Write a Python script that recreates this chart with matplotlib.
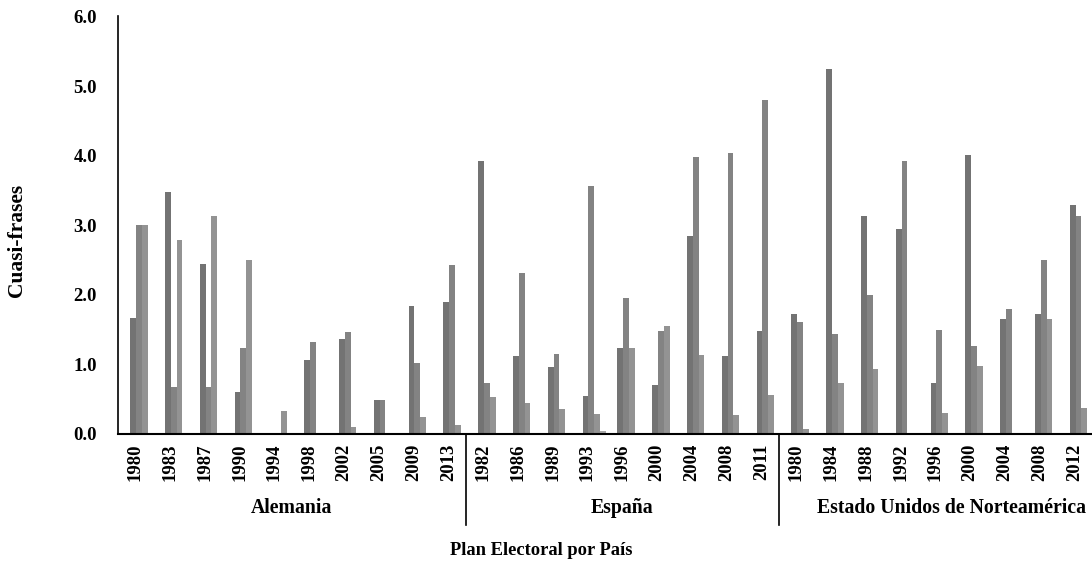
import numpy as np
import matplotlib
matplotlib.use("Agg")
import matplotlib.pyplot as plt
import matplotlib.transforms as mtransforms

# --- data ------------------------------------------------------------------
ale_years = ["1980", "1983", "1987", "1990", "1994", "1998", "2002", "2005", "2009", "2013"]
esp_years = ["1982", "1986", "1989", "1993", "1996", "2000", "2004", "2008", "2011"]
usa_years = ["1980", "1984", "1988", "1992", "1996", "2000", "2004", "2008", "2012"]

ale_s1 = [1.67, 3.48, 2.44, 0.61, 0.00, 1.06, 1.36, 0.49, 1.84, 1.90]
ale_s2 = [3.00, 0.68, 0.68, 1.24, 0.00, 1.32, 1.47, 0.49, 1.02, 2.43]
ale_s3 = [3.00, 2.79, 3.13, 2.50, 0.33, 0.00, 0.10, 0.00, 0.24, 0.13]
ale_s4 = [0, 0, 0, 0, 0, 0, 0, 0, 0, 0]

esp_s1 = [3.92, 1.12, 0.96, 0.55, 1.24, 0.70, 2.84, 1.12, 1.48]
esp_s2 = [0.73, 2.31, 1.15, 3.57, 1.96, 1.48, 3.98, 4.04, 4.80]
esp_s3 = [0.53, 0.44, 0.36, 0.29, 1.24, 1.55, 1.14, 0.28, 0.56]
esp_s4 = [0, 0, 0, 0.04, 0, 0, 0, 0, 0]

usa_s1 = [1.72, 5.25, 3.13, 2.94, 0.73, 4.01, 1.65, 1.72, 3.29]
usa_s2 = [1.61, 1.43, 2.00, 3.92, 1.49, 1.26, 1.80, 2.50, 3.13]
usa_s3 = [0.07, 0.73, 0.93, 0.00, 0.30, 0.98, 0.00, 1.65, 0.38]
usa_s4 = [0, 0, 0, 0, 0, 0, 0, 0, 0]

countries = ["Alemania", "España", "Estado Unidos de Norteamérica"]
y_ticks = [0.0, 1.0, 2.0, 3.0, 4.0, 5.0, 6.0]

COLORS = ["#737373", "#838383", "#939393", "#a8a8a8"]
FONT = "Liberation Serif"

years = ale_years + esp_years + usa_years
series = [
    ale_s1 + esp_s1 + usa_s1,
    ale_s2 + esp_s2 + usa_s2,
    ale_s3 + esp_s3 + usa_s3,
    ale_s4 + esp_s4 + usa_s4,
]
n = len(years)
x = np.arange(n)

plt.rcParams["font.family"] = [FONT, "DejaVu Serif"]
plt.rcParams["font.weight"] = "bold"

fig = plt.figure(figsize=(10.92, 5.61), dpi=100)
ax = fig.add_axes([0.1078, 0.2264, 0.8922, 0.7442])

w = 0.167
for j, vals in enumerate(series):
    ax.bar(x - 0.057 + w * j, vals, width=w, color=COLORS[j], linewidth=0)

ax.set_xlim(-0.5, n - 0.5)
ax.set_ylim(0, 6)
ax.set_yticks(y_ticks)
ax.set_yticklabels([f"{v:.1f}" for v in y_ticks], fontsize=13.5, fontweight="bold")
ax.set_xticks(x)
ax.set_xticklabels(years, rotation=90, fontsize=13.5, fontweight="bold")
ax.tick_params(axis="both", length=0)
ax.tick_params(axis="y", pad=15)
ax.tick_params(axis="x", pad=7)

for s in ["top", "right"]:
    ax.spines[s].set_visible(False)
ax.spines["left"].set_linewidth(1.2)
ax.spines["bottom"].set_linewidth(1.5)

# country separators and group labels below the year ticks
trans = mtransforms.blended_transform_factory(ax.transData, ax.transAxes)
bounds = [len(ale_years) - 0.5, len(ale_years) + len(esp_years) - 0.5]
for b in bounds:
    ax.plot([b, b], [0, -0.218], color="black", lw=1.2,
            transform=trans, clip_on=False)

centers = [(len(ale_years) - 1) / 2,
           len(ale_years) + (len(esp_years) - 1) / 2,
           23.45]
for c, name in zip(centers, countries):
    ax.text(c, -0.177, name, transform=trans, ha="center", va="center",
            fontsize=14.2, fontweight="bold")

fig.text(0.496, 0.018, "Plan Electoral por País", ha="center", va="center",
         fontsize=13.3, fontweight="bold")
fig.text(0.0156, 0.572, "Cuasi-frases", ha="center", va="center",
         rotation=90, fontsize=15.5, fontweight="bold")

fig.savefig("out.png", dpi=100, facecolor="white")
